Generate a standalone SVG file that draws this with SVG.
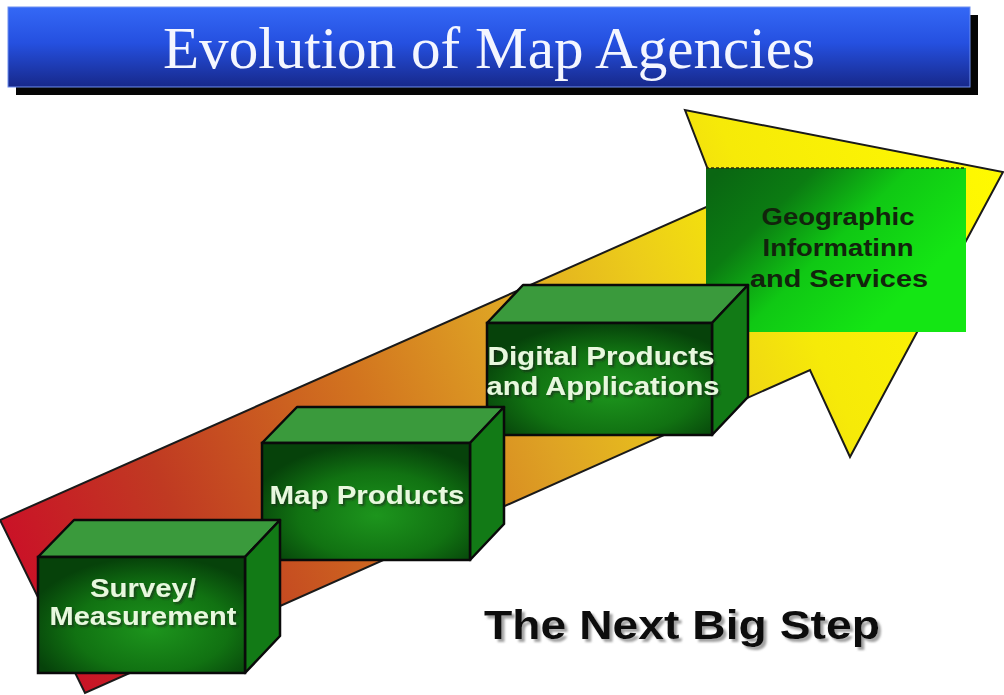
<svg xmlns="http://www.w3.org/2000/svg" width="1004" height="695" viewBox="0 0 1004 695">
  <defs>
    <linearGradient id="titleGrad" x1="0" y1="0" x2="0" y2="1">
      <stop offset="0" stop-color="#3468f6"/>
      <stop offset="0.45" stop-color="#2550e0"/>
      <stop offset="1" stop-color="#17288a"/>
    </linearGradient>
    <linearGradient id="arrowGrad" gradientUnits="userSpaceOnUse" x1="0" y1="606" x2="1003" y2="172">
      <stop offset="0" stop-color="#cc0a28"/>
      <stop offset="0.18" stop-color="#c03a22"/>
      <stop offset="0.38" stop-color="#d2741f"/>
      <stop offset="0.52" stop-color="#dea224"/>
      <stop offset="0.66" stop-color="#eccc1a"/>
      <stop offset="0.78" stop-color="#f6ea08"/>
      <stop offset="1" stop-color="#fffa00"/>
    </linearGradient>
    <radialGradient id="frontGrad" cx="0.55" cy="0.62" r="0.62">
      <stop offset="0" stop-color="#1d951d"/>
      <stop offset="0.6" stop-color="#117212"/>
      <stop offset="1" stop-color="#06420a"/>
    </radialGradient>
    <linearGradient id="geoGrad" x1="0" y1="0.1" x2="0.85" y2="0.65">
      <stop offset="0" stop-color="#0a6612"/>
      <stop offset="0.3" stop-color="#0b7c12"/>
      <stop offset="0.6" stop-color="#10c814"/>
      <stop offset="1" stop-color="#14e614"/>
    </linearGradient>
    <filter id="shadowDark" x="-5%" y="-20%" width="115%" height="150%">
      <feDropShadow dx="2" dy="2" stdDeviation="1" flood-color="#1a1a1a" flood-opacity="0.6"/>
    </filter>
    <filter id="shadowGray" x="-5%" y="-20%" width="115%" height="150%">
      <feDropShadow dx="3" dy="3" stdDeviation="1.2" flood-color="#8a8a8a" flood-opacity="0.8"/>
    </filter>
  </defs>
  <style>
    .top { fill: #3a9a3c; stroke: #0a0a0a; stroke-width: 2.5; stroke-linejoin: round; }
    .side { fill: #127a16; stroke: #0a0a0a; stroke-width: 2.5; stroke-linejoin: round; }
    .front { fill: url(#frontGrad); stroke: #0a0a0a; stroke-width: 2.5; }
    .lbl { font-family: "Liberation Sans", Arial, sans-serif; font-weight: bold; fill: #e8f8de; text-anchor: middle; filter: url(#shadowDark); }
    .geo { font-family: "Liberation Sans", Arial, sans-serif; font-weight: bold; fill: #12240c; text-anchor: middle; }
  </style>

  <rect width="1004" height="695" fill="#ffffff"/>

  <!-- Title -->
  <g id="title">
    <rect x="16" y="15" width="962" height="80" fill="#050505"/>
    <rect x="8" y="7" width="962" height="80" fill="url(#titleGrad)" stroke="#6f8ff0" stroke-width="1"/>
    <text x="489" y="68" font-family="'Liberation Serif', 'Times New Roman', serif" font-size="60" fill="#f4f6ff" text-anchor="middle" textLength="652" lengthAdjust="spacingAndGlyphs">Evolution of Map Agencies</text>
  </g>

  <!-- Big arrow -->
  <g id="arrow">
    <polygon points="0,520 720,201 685,110 1003,172 850,457 810,370 85,693" fill="url(#arrowGrad)" stroke="#1a1a1a" stroke-width="2" stroke-linejoin="miter"/>
  </g>

  <!-- Geographic Information and Services -->
  <g id="node-geo">
    <rect x="706" y="168" width="260" height="164" fill="url(#geoGrad)"/>
    <line x1="706" y1="168" x2="966" y2="168" stroke="#2a2a10" stroke-width="1.5" stroke-dasharray="3,2"/>
    <text class="geo" x="838" y="225" font-size="23" textLength="153" lengthAdjust="spacingAndGlyphs">Geographic</text>
    <text class="geo" x="838" y="256" font-size="23" textLength="151" lengthAdjust="spacingAndGlyphs">Informatinn</text>
    <text class="geo" x="839" y="287" font-size="23" textLength="178" lengthAdjust="spacingAndGlyphs">and Services</text>
  </g>

  <!-- Digital Products and Applications -->
  <g id="node-digital">
    <polygon class="top" points="487,323 523,285 748,285 712,323"/>
    <polygon class="side" points="712,323 748,285 748,397 712,435"/>
    <rect class="front" x="487" y="323" width="225" height="112"/>
    <text class="lbl" x="601" y="365" font-size="25" textLength="227" lengthAdjust="spacingAndGlyphs">Digital Products</text>
    <text class="lbl" x="603" y="395" font-size="25" textLength="233" lengthAdjust="spacingAndGlyphs">and Applications</text>
  </g>

  <!-- Map Products -->
  <g id="node-map">
    <polygon class="top" points="262,443 297,407 504,407 470,443"/>
    <polygon class="side" points="470,443 504,407 504,524 470,560"/>
    <rect class="front" x="262" y="443" width="208" height="117"/>
    <text class="lbl" x="367" y="504" font-size="26" textLength="195" lengthAdjust="spacingAndGlyphs">Map Products</text>
  </g>

  <!-- Survey / Measurement -->
  <g id="node-survey">
    <polygon class="top" points="38,557 74,520 280,520 245,557"/>
    <polygon class="side" points="245,557 280,520 280,636 245,673"/>
    <rect class="front" x="38" y="557" width="207" height="116"/>
    <text class="lbl" x="143" y="597" font-size="25" textLength="106" lengthAdjust="spacingAndGlyphs">Survey/</text>
    <text class="lbl" x="143" y="625" font-size="25" textLength="187" lengthAdjust="spacingAndGlyphs">Measurement</text>
  </g>

  <!-- Caption -->
  <g id="caption">
    <text x="682" y="639" font-family="'Liberation Sans', Arial, sans-serif" font-weight="bold" font-size="41" fill="#080808" text-anchor="middle" textLength="396" lengthAdjust="spacingAndGlyphs" filter="url(#shadowGray)">The Next Big Step</text>
  </g>

  <g id="connectors"/>
</svg>
